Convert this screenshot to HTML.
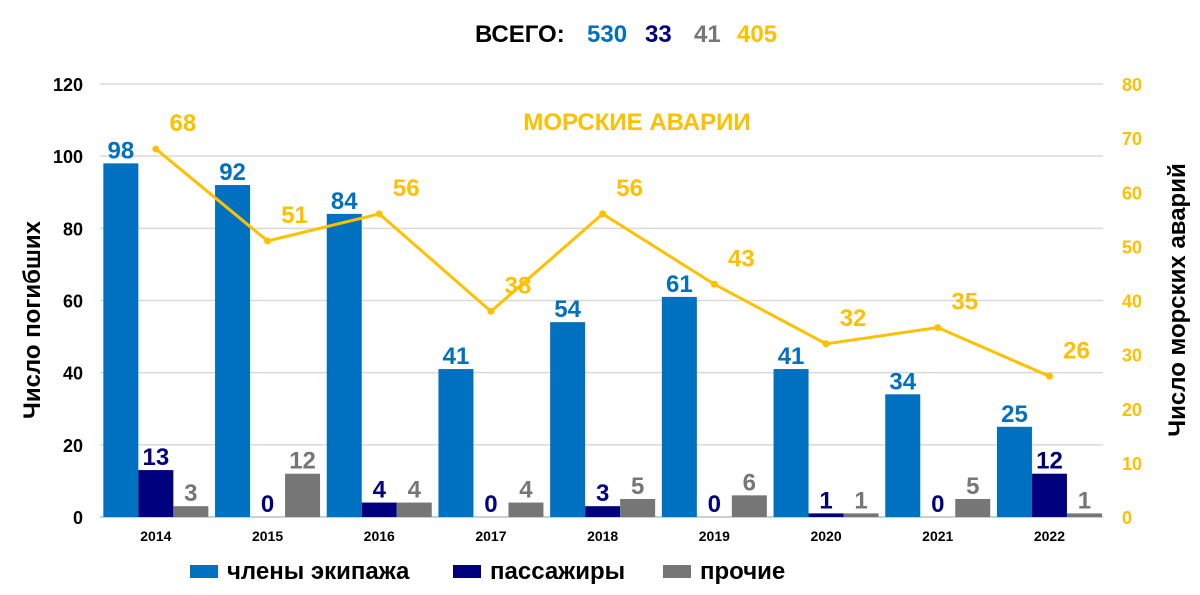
<!DOCTYPE html>
<html><head><meta charset="utf-8"><style>
body{margin:0;background:#fff;}
svg text{font-family:"Liberation Sans",Arial,sans-serif;font-weight:bold;}
</style></head><body>
<svg id="chart" width="1200" height="590" viewBox="0 0 1200 590" xmlns="http://www.w3.org/2000/svg">
<g id="grid"></g>
<g id="axes"></g>
<g id="bars"></g>
<g id="line"></g>
<text x="475" y="42" font-size="24" fill="#000">ВСЕГО:</text>
<text x="587" y="42" font-size="24" fill="#0070c0">530</text>
<text x="645" y="42" font-size="24" fill="#00007f">33</text>
<text x="694" y="42" font-size="24" fill="#767676">41</text>
<text x="737" y="42" font-size="24" fill="#ffc000">405</text>
<text x="637" y="130" font-size="24" fill="#ffc000" text-anchor="middle">МОРСКИЕ АВАРИИ</text>
<text transform="translate(40,320) rotate(-90)" font-size="24" fill="#000" text-anchor="middle">Число погибших</text>
<text transform="translate(1185,300) rotate(-90)" font-size="24" fill="#000" text-anchor="middle">Число морских аварий</text>
<g>
<rect x="190" y="565" width="28" height="13" fill="#0070c0"/>
<text x="227" y="579" font-size="24" fill="#000">члены экипажа</text>
<rect x="453" y="565" width="28" height="13" fill="#00007f"/>
<text x="490" y="579" font-size="24" fill="#000">пассажиры</text>
<rect x="663" y="565" width="28" height="13" fill="#767676"/>
<text x="700" y="579" font-size="24" fill="#000">прочие</text>
</g>
</svg>
<script>
const years=["2014","2015","2016","2017","2018","2019","2020","2021","2022"];
const crew=[98,92,84,41,54,61,41,34,25];
const passengers=[13,0,4,0,3,0,1,0,12];
const other=[3,12,4,4,5,6,1,5,1];
const accidents=[68,51,56,38,56,43,32,35,26];
const leftTicks=[0,20,40,60,80,100,120];
const rightTicks=[0,10,20,30,40,50,60,70,80];
const NS="http://www.w3.org/2000/svg";
const x0=100,step=111.7,y0=517,yTop=84;
const yL=v=>y0-(v/120)*(y0-yTop);
const yR=v=>y0-(v/80)*(y0-yTop);
const cx=i=>x0+step*(i+0.5);
function mk(tag,attrs,parent,txt){const e=document.createElementNS(NS,tag);for(const k in attrs)e.setAttribute(k,attrs[k]);if(txt!==undefined)e.textContent=txt;parent.appendChild(e);return e;}
const grid=document.getElementById('grid'),axes=document.getElementById('axes'),bars=document.getElementById('bars'),line=document.getElementById('line');
leftTicks.forEach(t=>{
 const g=mk('line',{x1:x0,x2:1103,y1:yL(t),y2:yL(t),stroke:t===0?'#bfbfbf':'#d9d9d9','stroke-width':1.5},grid);
 
 
 const l=mk('text',{x:83,y:yL(t)+7,'font-size':18,'text-anchor':'end',fill:'#000'},axes,t);
 
 
});
rightTicks.forEach(t=>{
 const l=mk('text',{x:1122,y:yR(t)+7,'font-size':18,fill:'#ffc000'},axes,t);
 
 
});
const bw=35;
const series=[[crew,'#0070c0','bar-crew'],[passengers,'#00007f','bar-passengers'],[other,'#767676','bar-other']];
years.forEach((y,i)=>{
 const xl=mk('text',{x:cx(i),y:541,'font-size':14,'text-anchor':'middle',fill:'#000'},axes,y);
 
 
 series.forEach((s,j)=>{
  const v=s[0][i];const bx=cx(i)-52.5+j*bw;
  const r=mk('rect',{x:bx,y:yL(v),width:bw,height:y0-yL(v),fill:s[1]},bars);
  
  
  const t=mk('text',{x:bx+bw/2,y:yL(v)-5,'font-size':24,'text-anchor':'middle',fill:s[1]},bars,v);
  
  
 });
});
const pts=accidents.map((v,i)=>cx(i)+','+yR(v)).join(' ');
const pl=mk('polyline',{points:pts,fill:'none',stroke:'#ffc000','stroke-width':3},line);


accidents.forEach((v,i)=>{
 const c=mk('circle',{cx:cx(i),cy:yR(v),r:3.5,fill:'#ffc000'},line);
 
 
 const t=mk('text',{x:cx(i)+27,y:yR(v)-18,'font-size':24,'text-anchor':'middle',fill:'#ffc000'},line,v);
 
 
});
</script>
</body></html>
